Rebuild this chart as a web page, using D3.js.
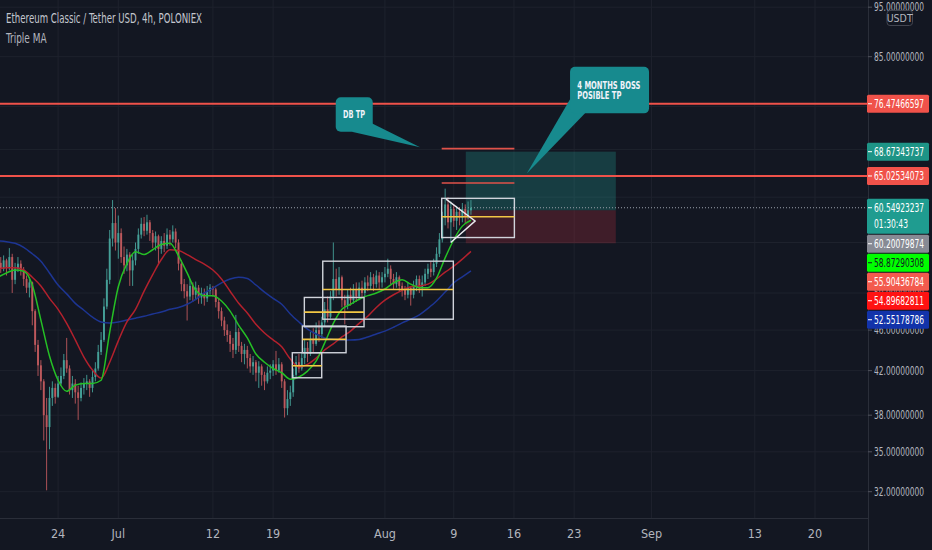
<!DOCTYPE html>
<html><head><meta charset="utf-8">
<script src="https://cdn.jsdelivr.net/npm/d3@7/dist/d3.min.js"></script>
<style>html,body{margin:0;padding:0;background:#131722;overflow:hidden}svg{display:block}</style>
</head><body><svg id="c" width="932" height="550"></svg>
<script>
// ---------------- DATA ----------------
const title = "Ethereum Classic / Tether USD, 4h, POLONIEX";
const indicatorName = "Triple MA";
const candleStart = "2021-06-17T08:00:00Z";
const candleStepHours = 8;
const firstOpen = 53.5;
const closes = [
52.8,53.8,
53.0,54.2,51.5, 52.8,53.4,52.6, 51.6,50.6,51.2, 48.0,44.5,42.5, 41.0,38.0,37.0, 39.5,40.4,39.6, 40.8,41.5,43.0,
42.2,40.2,40.8, 40.0,39.5,40.4, 40.8,41.0,40.4, 41.4,42.2,43.8, 45.0,48.5,51.5, 56.5,58.5,56.0,
57.2,54.2,53.2, 54.5,52.6,53.8, 55.2,57.0,58.4, 57.5,58.6,57.2, 56.0,56.8,55.2, 56.2,55.6,57.0, 56.4,57.4,56.0,
53.4,51.0,50.2, 49.6,50.8,49.8, 50.6,49.5,50.0, 49.4,50.2,50.6, 50.4,49.0,48.0, 47.0,46.0,45.5, 44.6,44.0,45.8,
44.4,43.6,44.0, 43.2,42.4,42.8, 41.8,42.4,41.6, 41.0,41.8,42.0, 42.6,42.0,42.6, 41.0,38.6,39.4, 40.0,41.6,42.8,
42.2,43.2,44.2, 43.6,45.0,44.6, 46.0,45.6,46.8, 48.2,47.4,49.6, 51.6,50.4,51.8, 49.2,48.6,49.8, 49.2,50.4,49.6,
50.6,50.0,51.2, 50.8,51.8,51.0, 52.0,51.2,51.8,
52.2,52.8,51.6, 51.0,51.8,50.8, 50.4,49.8,50.6, 49.8,50.8,51.6, 50.6,51.2,52.2, 52.8,52.4,53.4, 54.6,56.4,59.2,
61.0,58.6,60.4, 58.8,60.0,59.2, 60.4,59.4,60.2,
60.54923237];
const highs = [
54.2,54.4,
54.0,55.3,54.6, 53.5,54.2,53.8, 53.0,52.0,51.8, 51.3,48.2,45.0, 43.0,41.2,39.5, 40.5,41.0,40.8, 41.5,42.3,43.6,
45.2,42.5,41.5, 41.2,40.6,40.9, 41.3,41.6,41.2, 42.0,42.8,44.5, 45.8,49.4,52.8, 57.6,61.6,60.5,
59.5,57.8,55.5, 55.2,54.8,54.5, 56.0,57.8,59.2, 59.3,59.6,58.9, 57.6,57.4,57.0, 56.8,57.2,57.8, 57.6,58.2,57.8,
56.4,53.8,51.6, 51.0,51.6,51.2, 51.3,50.9,50.6, 50.5,50.8,51.0, 50.8,50.6,49.4, 48.4,47.4,46.6, 45.9,45.2,47.6,
46.2,44.8,44.6, 44.4,43.6,43.4, 43.0,42.9,42.6, 41.9,42.4,42.6, 43.0,43.9,43.2, 42.8,41.2,40.2, 40.6,42.2,43.4,
43.6,43.8,45.0, 44.8,45.8,46.2, 46.8,47.0,47.4, 49.0,49.6,50.2, 56.0,52.8,53.0, 52.0,49.8,50.4, 50.6,51.0,51.2,
51.2,51.4,51.8, 52.0,52.4,52.2, 52.6,52.4,52.4,
53.0,54.0,53.2, 52.2,52.4,52.0, 51.2,50.8,51.2, 50.8,51.4,52.0, 52.0,52.0,52.8, 53.4,53.6,54.0, 55.4,57.2,60.0,
63.2,62.0,61.4, 61.0,60.8,60.6, 61.2,61.0,61.4,
61.6];
const lows = [
52.3,52.5,
52.0,52.6,50.0, 51.0,52.4,52.0, 50.8,50.0,49.5, 46.5,43.8,41.5, 40.2,35.9,32.1, 35.2,38.8,39.0, 39.5,40.6,41.2,
41.8,39.8,39.5, 39.0,37.6,39.2, 39.8,40.2,39.6, 40.0,41.0,42.0, 43.5,44.8,48.2, 51.0,55.5,55.0,
54.0,53.5,52.2, 52.5,50.8,50.8, 53.2,54.6,56.5, 56.8,57.0,56.2, 55.3,55.0,53.4, 54.6,54.8,55.2, 55.6,56.0,55.3,
52.6,50.2,49.4, 47.0,49.2,49.0, 49.2,48.8,48.8, 48.6,49.0,49.8, 49.6,48.4,47.2, 46.4,45.4,44.8, 43.8,43.2,43.6,
43.8,42.8,42.6, 42.2,41.8,41.6, 41.0,40.4,40.6, 40.2,40.8,41.2, 41.5,41.6,41.8, 40.4,37.8,38.0, 38.8,39.6,41.4,
41.8,42.0,42.6, 42.8,43.4,43.8, 44.4,44.8,45.2, 46.4,46.8,47.2, 49.2,49.6,49.8, 48.4,46.6,48.2, 48.6,48.8,49.0,
49.2,49.4,49.6, 50.2,50.4,50.2, 50.6,50.4,50.6,
51.2,51.8,51.0, 50.4,50.6,50.2, 49.6,49.2,49.4, 48.6,49.4,50.2, 50.0,49.6,50.8, 51.6,51.8,52.0, 53.0,54.2,56.0,
58.2,57.8,56.0, 58.0,57.6,58.2, 58.6,58.4,59.0,
59.6];

// Triple MA, sampled once a day from maStart
const maStart = "2021-06-17T00:00:00Z";
const maFast = [
51.8,52.3,52.65,52.5,50.9,47.05,43.4,41.1,40.1,40.65,40.8,40.8,41.1,45.8,
50.7,53.4,54.85,54.5,55.1,55.75,55.9,54.35,52.3,50.3,49.7,49.7,49.1,48.0,46.5,45.2,43.6,42.8,42.2,41.8,41.2,41.4,41.95,42.9,44.7,46.7,48.2,48.75,49.3,49.7,50.0,
50.45,51.15,51.5,51.0,50.6,50.6,51.7,54.1,56.35,58.1,58.87290308];
const maMid = [
52.8,52.9,52.9,52.65,51.8,50.8,49.4,48.2,46.7,45.0,43.3,42.05,41.3,42.8,
44.9,46.85,48.2,50.2,52.1,53.9,55.1,55.0,54.5,53.9,53.35,52.65,51.6,50.2,48.85,47.8,46.6,45.7,45.0,44.3,43.1,42.35,42.6,43.2,44.0,44.6,45.3,45.9,46.7,47.45,48.4,
49.2,49.8,50.3,50.7,50.8,51.0,51.6,52.4,53.1,53.95,54.89682811];
const maSlow = [
56.2,56.1,55.9,55.4,54.6,53.7,52.3,50.9,49.9,48.85,48.1,47.35,46.85,46.75,
46.85,47.05,47.25,47.45,47.7,47.9,48.2,48.4,48.75,49.3,50.0,50.55,51.15,51.6,51.8,51.65,50.9,50.1,49.4,48.75,47.7,46.85,46.1,45.6,45.2,45.05,45.0,45.0,45.05,45.3,45.6,
45.9,46.3,46.75,47.15,47.6,48.3,49.1,50.1,51.15,51.85,52.55178786];

const priceTicks = [32,35,38,42,46,50,56,62,69,76,85,95];
const hiddenTickLabels = [62];
const timeTickDates = ["2021-06-24","2021-07-01","2021-07-12","2021-07-19","2021-08-01","2021-08-09","2021-08-16","2021-08-23","2021-09-01","2021-09-13","2021-09-20"];
const timeTickLabels = ["24","Jul","12","19","Aug","9","16","23","Sep","13","20"];

const levelLines = [76.47466597, 65.02534073];
const lastPrice = 60.54923237;
const countdown = "01:30:43";
const positionStart = "2021-08-10T09:36:00Z", positionEnd = "2021-08-27T20:10:00Z";
const positionTarget = 68.67343737, positionEntry = 60.20079874, positionStop = 55.90436784;

// rectangles: start, end, top, bottom, midline
const rangeStarts = ["2021-07-21T05:30:00Z","2021-07-22T09:36:00Z","2021-07-22T15:07:00Z","2021-07-24T18:29:00Z","2021-08-07T14:24:00Z"];
const rangeEnds   = ["2021-07-24T15:36:00Z","2021-07-27T11:31:00Z","2021-07-29T13:41:00Z","2021-08-08T22:48:00Z","2021-08-16T01:12:00Z"];
const rangeTops    = [43.72,46.42,49.5,53.7,61.84];
const rangeBottoms = [41.33,43.72,46.35,47.14,56.63];
const rangeMids    = [42.46,45.05,47.9,50.4,59.33];

const shortLevelStart = "2021-08-07T14:24:00Z", shortLevelEnd = "2021-08-16T01:12:00Z";
const shortLevels = [69.15, 64.0];

const triangleDates = ["2021-08-08T02:24:00Z","2021-08-11T11:31:00Z","2021-08-08T15:36:00Z"];
const trianglePrices = [61.72, 58.78, 56.0];

const calloutTexts = [["DB TP"],["4 MONTHS BOSS","POSIBLE TP"]];
const calloutBoxDates = ["2021-07-26T06:43:00Z","2021-08-22T12:29:00Z"];
const calloutBoxPrices = [77.6, 83.1];
const calloutTipDates = ["2021-08-05T02:00:00Z","2021-08-17T11:46:00Z"];
const calloutTipPrices = [69.36, 65.4];

const axisLabelValues = [76.47466597, 68.67343737, 65.02534073, 60.54923237, 60.20079874, 58.87290308, 55.90436784, 54.89682811, 52.55178786];

// ---------------- LAYOUT / STYLE ----------------
const W = 932, H = 550, plotR = 868, plotB = 518;
const BG = "#131722", TXT = "#b2b5be", GRID = "#1e222d";
const FONT = "'Liberation Sans Narrow','Arial Narrow','DejaVu Sans Condensed',Roboto,sans-serif";
const svg = d3.select("#c");
const x = d3.scaleUtc().domain([new Date("2021-07-01T00:00:00Z"), new Date("2021-09-20T00:00:00Z")]).range([118.3, 815]);
const y = d3.scaleLog().domain([85, 32]).range([56.7, 491.7]);
const D = s => new Date(s);

svg.append("rect").attr("width", W).attr("height", H).attr("fill", BG);
svg.append("defs").append("clipPath").attr("id", "plot").append("rect")
  .attr("x", 0).attr("y", 0).attr("width", plotR).attr("height", plotB);
const g = svg.append("g").attr("clip-path", "url(#plot)");

// grid
g.selectAll(".vg").data(timeTickDates).join("line")
  .attr("x1", d => x(D(d))).attr("x2", d => x(D(d))).attr("y1", 0).attr("y2", plotB)
  .attr("stroke", GRID).attr("stroke-width", 1);
g.selectAll(".hg").data(priceTicks).join("line")
  .attr("x1", 0).attr("x2", plotR).attr("y1", d => y(d)).attr("y2", d => y(d))
  .attr("stroke", GRID).attr("stroke-width", 1);

// position tool
const px0 = x(D(positionStart)), px1 = x(D(positionEnd));
g.append("rect").attr("x", px0).attr("width", px1 - px0)
  .attr("y", y(positionTarget)).attr("height", y(positionEntry) - y(positionTarget))
  .attr("fill", "rgba(38,166,154,0.27)");
g.append("rect").attr("x", px0).attr("width", px1 - px0)
  .attr("y", y(positionEntry)).attr("height", y(positionStop) - y(positionEntry))
  .attr("fill", "rgba(242,54,69,0.2)");

// horizontal level lines
g.selectAll(".lvl").data(levelLines).join("line")
  .attr("x1", 0).attr("x2", plotR).attr("y1", d => y(d)).attr("y2", d => y(d))
  .attr("stroke", "#f0524a").attr("stroke-width", 2);

// last price dotted line
g.append("line").attr("x1", 0).attr("x2", plotR).attr("y1", y(lastPrice)).attr("y2", y(lastPrice))
  .attr("stroke", "#9aa0aa").attr("stroke-width", 1).attr("stroke-dasharray", "1,2");

// candles
const t0 = D(candleStart).getTime();
const candles = closes.map((c, i) => ({
  t: new Date(t0 + i * candleStepHours * 3600e3),
  o: i === 0 ? firstOpen : closes[i - 1], c, h: highs[i], l: lows[i]
}));
const UP = "#45a098", DN = "#bd585c";
const cg = g.append("g");
cg.selectAll("line").data(candles).join("line")
  .attr("x1", d => x(d.t)).attr("x2", d => x(d.t))
  .attr("y1", d => y(Math.max(d.h, d.o, d.c))).attr("y2", d => y(Math.min(d.l, d.o, d.c)))
  .attr("stroke", d => d.c >= d.o ? UP : DN).attr("stroke-width", 0.9);
cg.selectAll("rect").data(candles).join("rect")
  .attr("x", d => x(d.t) - 0.95).attr("width", 1.9)
  .attr("y", d => y(Math.max(d.o, d.c)))
  .attr("height", d => Math.max(1, Math.abs(y(d.o) - y(d.c))))
  .attr("fill", d => d.c >= d.o ? UP : DN);

// moving averages
const m0 = D(maStart).getTime();
const maLine = d3.line().x((v, i) => x(new Date(m0 + i * 86400e3))).y(v => y(v)).curve(d3.curveMonotoneX);
[[maSlow, "#1d3593"], [maMid, "#b3212d"], [maFast, "#25c025"]].forEach(([arr, col]) => {
  g.append("path").attr("d", maLine(arr)).attr("fill", "none").attr("stroke", col).attr("stroke-width", 1.5);
});

// rectangles with midlines
const ranges = rangeStarts.map((s, i) => ({ s: D(s), e: D(rangeEnds[i]), t: rangeTops[i], b: rangeBottoms[i], m: rangeMids[i] }));
g.selectAll(".rg").data(ranges).join("rect")
  .attr("x", d => x(d.s)).attr("width", d => x(d.e) - x(d.s))
  .attr("y", d => y(d.t)).attr("height", d => y(d.b) - y(d.t))
  .attr("fill", "none").attr("stroke", "#d1d4dc").attr("stroke-width", 1.4);
g.selectAll(".rm").data(ranges).join("line")
  .attr("x1", d => x(d.s)).attr("x2", d => x(d.e)).attr("y1", d => y(d.m)).attr("y2", d => y(d.m))
  .attr("stroke", "#f2c744").attr("stroke-width", 1.6);

// short red levels
g.selectAll(".sl").data(shortLevels).join("line")
  .attr("x1", x(D(shortLevelStart))).attr("x2", x(D(shortLevelEnd)))
  .attr("y1", d => y(d)).attr("y2", d => y(d))
  .attr("stroke", "#e0524a").attr("stroke-width", 1.6);

// triangle
g.append("path").attr("d", d3.line()(triangleDates.map((d, i) => [x(D(d)), y(trianglePrices[i])])))
  .attr("fill", "none").attr("stroke", "#e8e9ee").attr("stroke-width", 1.5);

// callouts
const CALL = "#178a8e";
const boxSizes = [[37, 34.4], [79, 46.6]];
calloutTexts.forEach((lines, k) => {
  const bx = x(D(calloutBoxDates[k])), by = y(calloutBoxPrices[k]);
  const [bw, bh] = boxSizes[k];
  const tx = x(D(calloutTipDates[k])), ty = y(calloutTipPrices[k]);
  const base = k === 0 ? [[bx + 16, by + bh], [bx + bw - 1, by + bh - 8.5]] : [[bx, by + bh - 14], [bx + 15, by + bh]];
  g.append("path").attr("d", d3.line()([base[0], [tx, ty], base[1]]) + "Z").attr("fill", CALL);
  g.append("rect").attr("x", bx).attr("y", by).attr("width", bw).attr("height", bh).attr("rx", 5).attr("fill", CALL);
  const widths = k === 0 ? [22] : [63, 44];
  lines.forEach((s, j) => {
    const yy = k === 0 ? by + bh / 2 + 3.5 : by + 21.8 + j * 10.7;
    g.append("text").attr("x", bx + 7.3).attr("y", yy)
      .attr("fill", "#f0f3fa").attr("font-family", FONT).attr("font-size", 10).attr("font-weight", "bold")
      .attr("textLength", widths[j]).attr("lengthAdjust", "spacingAndGlyphs").text(s);
  });
});

// axes frame
svg.append("rect").attr("x", plotR).attr("y", 0).attr("width", W - plotR).attr("height", H).attr("fill", BG);
svg.append("rect").attr("x", 0).attr("y", plotB).attr("width", plotR).attr("height", H - plotB).attr("fill", BG);
svg.append("line").attr("x1", plotR + 0.5).attr("x2", plotR + 0.5).attr("y1", 0).attr("y2", H).attr("stroke", "#2a2e39");
svg.append("line").attr("x1", 0).attr("x2", plotR).attr("y1", plotB + 0.5).attr("y2", plotB + 0.5).attr("stroke", "#2a2e39");

// header
svg.append("text").attr("x", 6).attr("y", 23).attr("fill", "#c3c6ce").attr("font-family", FONT).attr("font-size", 13.5)
  .attr("textLength", 196).attr("lengthAdjust", "spacingAndGlyphs").text(title);
svg.append("text").attr("x", 6).attr("y", 43).attr("fill", "#b2b5be").attr("font-family", FONT).attr("font-size", 13.5)
  .attr("textLength", 40.5).attr("lengthAdjust", "spacingAndGlyphs").text(indicatorName);

// time axis labels
svg.selectAll(".tl").data(timeTickDates).join("text")
  .attr("x", d => x(D(d))).attr("y", 538).attr("text-anchor", "middle")
  .attr("fill", TXT).attr("font-family", FONT).attr("font-size", 12.5)
  .text((d, i) => timeTickLabels[i]);

// price axis tick labels
const fmt = d3.format(".8f");
priceTicks.filter(v => !hiddenTickLabels.includes(v)).forEach(v => {
  const yy = y(v);
  svg.append("line").attr("x1", plotR).attr("x2", plotR + 4).attr("y1", yy).attr("y2", yy).attr("stroke", "#50535e");
  svg.append("text").attr("x", 874).attr("y", yy + 4.2).attr("fill", TXT).attr("font-family", FONT).attr("font-size", 12)
    .attr("textLength", 50).attr("lengthAdjust", "spacingAndGlyphs").text(fmt(v));
});

// USDT badge
svg.append("rect").attr("x", 887).attr("y", 10.5).attr("width", 25.5).attr("height", 15).attr("rx", 3)
  .attr("fill", BG).attr("stroke", "#434651");
svg.append("text").attr("x", 899.7).attr("y", 21.8).attr("text-anchor", "middle").attr("fill", TXT)
  .attr("font-family", FONT).attr("font-size", 10.5).text("USDT");

// price labels (stacked)
const labelBg = ["#f0524a", "#1e9486", "#f0524a", "#1f9c90", "#878a94", "#00ff00", "#f35b4e", "#ff1212", "#1233aa"];
const labelFg = ["#fff", "#fff", "#fff", "#fff", "#fff", "#131722", "#fff", "#fff", "#fff"];
const labels = axisLabelValues.map((v, i) => ({ v, bg: labelBg[i], fg: labelFg[i], sub: v === lastPrice ? countdown : null }))
  .sort((a, b) => y(a.v) - y(b.v));
let prevBottom = -1e9;
labels.forEach(L => {
  const h = L.sub ? 35 : 18;
  let top = y(L.v) - 9;
  if (top < prevBottom + 1) top = prevBottom + 1;
  prevBottom = top + h;
  svg.append("rect").attr("x", plotR - 1).attr("y", top).attr("width", 929 - plotR + 1).attr("height", h)
    .attr("rx", 1.5).attr("fill", L.bg);
  svg.append("line").attr("x1", plotR).attr("x2", plotR + 4).attr("y1", top + 9).attr("y2", top + 9).attr("stroke", L.fg);
  svg.append("text").attr("x", 874).attr("y", top + 13.3).attr("fill", L.fg).attr("font-family", FONT).attr("font-size", 12)
    .attr("textLength", 50).attr("lengthAdjust", "spacingAndGlyphs").text(fmt(L.v));
  if (L.sub) svg.append("text").attr("x", 874).attr("y", top + 29).attr("fill", L.fg).attr("font-family", FONT)
    .attr("font-size", 12).attr("textLength", 34).attr("lengthAdjust", "spacingAndGlyphs").text(L.sub);
});
</script></body></html>
